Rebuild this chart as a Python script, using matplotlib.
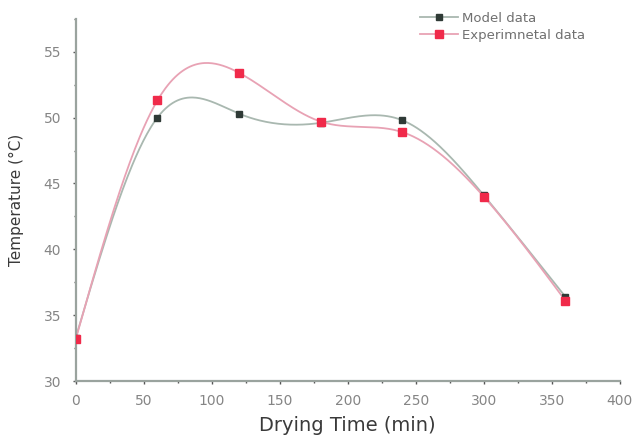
import numpy as np
import matplotlib
matplotlib.use("Agg")
import matplotlib.pyplot as plt

time_min = [0, 60, 120, 180, 240, 300, 360]
model_temp = [33.3, 50.0, 50.3, 49.6, 49.8, 44.1, 36.4]
exp_temp = [33.2, 51.3, 53.4, 49.7, 48.9, 44.0, 36.1]
x_ticks = [0, 50, 100, 150, 200, 250, 300, 350, 400]
y_ticks = [30, 35, 40, 45, 50, 55]


def natural_spline(x, y, n=400):
    x = np.asarray(x, float)
    y = np.asarray(y, float)
    k = len(x)
    h = np.diff(x)
    A = np.zeros((k, k))
    b = np.zeros(k)
    A[0, 0] = 1
    A[-1, -1] = 1
    for i in range(1, k - 1):
        A[i, i - 1] = h[i - 1]
        A[i, i] = 2 * (h[i - 1] + h[i])
        A[i, i + 1] = h[i]
        b[i] = 6 * ((y[i + 1] - y[i]) / h[i] - (y[i] - y[i - 1]) / h[i - 1])
    M = np.linalg.solve(A, b)
    xs = np.linspace(x[0], x[-1], n)
    ys = np.empty_like(xs)
    for j, xv in enumerate(xs):
        i = min(np.searchsorted(x, xv, side="right") - 1, k - 2)
        t1 = x[i + 1] - xv
        t0 = xv - x[i]
        ys[j] = (M[i] * t1 ** 3 / (6 * h[i]) + M[i + 1] * t0 ** 3 / (6 * h[i])
                 + (y[i] / h[i] - M[i] * h[i] / 6) * t1
                 + (y[i + 1] / h[i] - M[i + 1] * h[i] / 6) * t0)
    return xs, ys


plt.rcParams['font.family'] = ['DejaVu Sans']

fig = plt.figure(figsize=(6.37, 4.37), dpi=100)
ax = fig.add_axes([0.119, 0.128, 0.854, 0.829])

model_line = '#a9b8b0'
model_mark = '#2f3a36'
exp_line = '#e8a2b4'
exp_mark = '#f02a4a'

xs, ys = natural_spline(time_min, model_temp)
ax.plot(xs, ys, color=model_line, lw=1.3, zorder=2)
ax.plot(time_min, model_temp, 's', color=model_mark, ms=4.5, zorder=3)
xs, ys = natural_spline(time_min, exp_temp)
ax.plot(xs, ys, color=exp_line, lw=1.3, zorder=2)
ax.plot(time_min, exp_temp, 's', color=exp_mark, ms=5.5, zorder=4)

ax.plot([], [], '-s', color=model_line, mfc=model_mark, mec=model_mark, ms=4.5, lw=1.3, label='Model data')
ax.plot([], [], '-s', color=exp_line, mfc=exp_mark, mec=exp_mark, ms=5.5, lw=1.3, label='Experimnetal data')

ax.set_xlim(0, 400)
ax.set_ylim(30, 57.5)
ax.set_xticks(x_ticks)
ax.set_yticks(y_ticks)
ax.set_xticks(np.arange(25, 400, 50), minor=True)
ax.set_yticks(np.arange(32.5, 58, 5), minor=True)

for s in ['top', 'right']:
    ax.spines[s].set_visible(False)
for s in ['left', 'bottom']:
    ax.spines[s].set_color('#9aa39e')
    ax.spines[s].set_linewidth(1.6)

ax.tick_params(which='both', direction='out', color='#555555', labelcolor='#858585', labelsize=10)
ax.tick_params(which='major', length=2.5, width=1)
ax.tick_params(which='minor', length=1.5, width=1)
ax.tick_params(axis='x', which='major', pad=7)
ax.tick_params(axis='y', which='major', pad=8)

ax.set_xlabel('Drying Time (min)', fontsize=14, color='#3a3a3a', va='top')
ax.set_ylabel('Temperature (°C)', fontsize=11, color='#3a3a3a')
ax.xaxis.set_label_coords(0.5, -0.096)
ax.yaxis.set_label_coords(-0.096, 0.5)

leg = ax.legend(loc='upper left', bbox_to_anchor=(0.615, 1.045), frameon=False,
                fontsize=9.5, handlelength=2.9, handletextpad=0.3, labelspacing=0.3,
                labelcolor='#707070', borderpad=0.2)

fig.savefig('out.png', dpi=100)
